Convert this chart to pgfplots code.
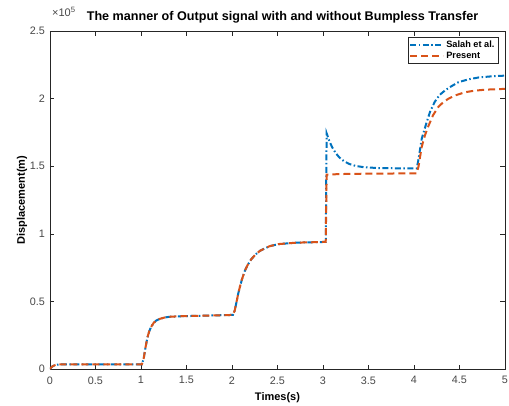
\documentclass[border=0pt]{standalone}
\usepackage{fontspec}
\setmainfont{Liberation Sans}
\usepackage{pgfplots}
\pgfplotsset{compat=1.18}

\definecolor{mblue}{rgb}{0,0.447,0.741}
\definecolor{morange}{rgb}{0.85,0.325,0.098}
\definecolor{axgray}{rgb}{0.15,0.15,0.15}

\begin{document}
\begin{tikzpicture}
\begin{axis}[
    name=ax,
    at={(0,0)}, anchor=south west,
    scale only axis,
    width=455pt, height=338pt,
    xmin=0, xmax=5, ymin=0, ymax=250000,
    xtick={0,0.5,1,1.5,2,2.5,3,3.5,4,4.5,5},
    ytick={0,50000,100000,150000,200000,250000},
    scaled y ticks=base 10:-5,
    ytick scale label code/.code={},
    tick align=inside,
    major tick length=4.5pt,
    axis line style={axgray, line width=0.5pt},
    tick style={axgray, line width=0.5pt},
    /pgf/number format/assume math mode=true,
    ticklabel style={font=\fontsize{10.8}{12}\selectfont, text=axgray!85},
    x tick label style={yshift=-4pt},
    y tick label style={xshift=-1.5pt},
    title={The manner of Output signal with and without Bumpless Transfer},
    title style={font=\bfseries\fontsize{12.6}{14}\selectfont, anchor=base,
                 at={(rel axis cs:0.5,1)}, yshift=5pt, xshift=5pt},
    xlabel={Times(s)},
    ylabel={Displacement(m)},
    label style={font=\bfseries\fontsize{11}{13}\selectfont},
    xlabel style={yshift=-1pt},
    ylabel style={yshift=-4pt},
    legend style={at={(rel axis cs:0.985,0.982)}, anchor=north east,
                  font=\bfseries\fontsize{9.2}{10}\selectfont,
                  draw=axgray, line width=0.5pt, inner sep=1.5pt,
                  row sep=-1pt},
    legend cell align=left,
    legend image code/.code={\draw[#1] (0pt,0pt) -- (33pt,0pt);},
]
% Salah et al.
\addplot[mblue, line width=2pt, dash pattern=on 6pt off 2.5pt on 1.5pt off 2.5pt] coordinates {
(0,0) (0.01,900) (0.03,2100) (0.06,3000) (0.1,3400) (0.2,3500) (1.01,3500)
(1.03,7960) (1.05,16110) (1.07,23200) (1.09,27800) (1.11,30990) (1.14,34180)
(1.17,35950) (1.21,37190) (1.26,38080) (1.31,38610) (1.41,38970) (2.01,40000)
(2.03,43240) (2.05,49720) (2.07,56200) (2.09,61600) (2.11,66460) (2.14,72400)
(2.17,76720) (2.21,81040) (2.26,84820) (2.31,87520) (2.41,90760) (2.51,92380)
(2.71,93460) (3.03,94000)
(3.04,174300) (3.07,168570) (3.10,164110) (3.14,159660) (3.18,156470)
(3.23,153720) (3.29,151630) (3.36,150200) (3.45,149250) (3.6,148640)
(3.8,148450) (4.03,148400)
(4.05,155260) (4.085,170350) (4.14,182700) (4.18,190930) (4.23,197790)
(4.28,202590) (4.34,206020) (4.41,209110) (4.49,212200) (4.6,214260)
(4.71,215630) (4.85,216450) (5.0,217000)
};
\addlegendentry{Salah et al.}
% Present
\addplot[morange, line width=2pt, dash pattern=on 7pt off 4pt] coordinates {
(0,0) (0.01,900) (0.03,2100) (0.06,3000) (0.1,3400) (0.2,3500) (1.01,3500)
(1.03,7960) (1.05,16110) (1.07,23200) (1.09,27800) (1.11,30990) (1.14,34180)
(1.17,35950) (1.21,37190) (1.26,38080) (1.31,38610) (1.41,38970) (2.01,40000)
(2.03,43240) (2.05,49720) (2.07,56200) (2.09,61600) (2.11,66460) (2.14,72400)
(2.17,76720) (2.21,81040) (2.26,84820) (2.31,87520) (2.41,90760) (2.51,92380)
(2.71,93460) (3.03,94000)
(3.04,143800) (3.2,144200) (3.5,144500) (4.03,144700)
(4.05,150000) (4.085,164400) (4.12,172800) (4.16,180000) (4.21,187800)
(4.27,194100) (4.32,197200) (4.38,200000) (4.46,202500) (4.56,204700)
(4.66,205800) (4.78,206600) (5.0,207200)
};
\addlegendentry{Present}
\end{axis}
\node[anchor=base west, inner sep=0pt, text=axgray!85, font=\fontsize{11}{12}\selectfont]
  at ([xshift=2pt,yshift=15pt]ax.north west) {×10\textsuperscript{5}};
\pgfresetboundingbox
\path (-50pt,-36pt) rectangle (459pt,369pt);
\end{tikzpicture}
\end{document}
